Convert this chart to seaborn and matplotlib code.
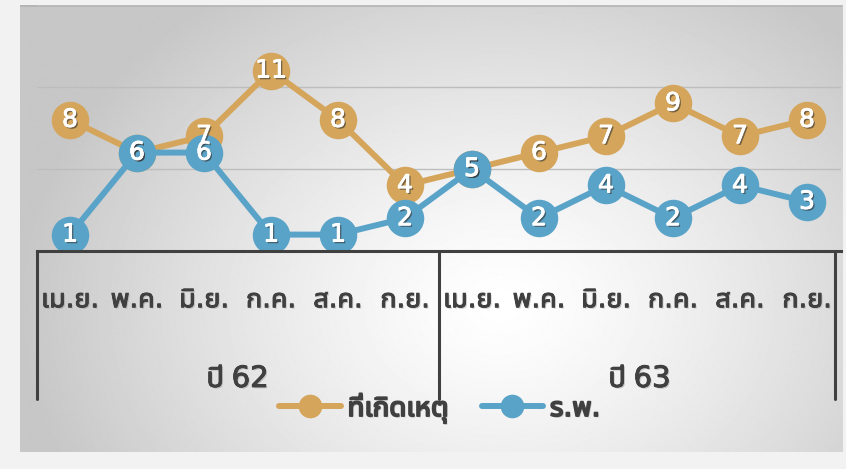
import numpy as np
import pandas as pd
import seaborn as sns
import matplotlib.pyplot as plt
import matplotlib.patheffects as pe
from matplotlib import font_manager, ft2font
from matplotlib.lines import Line2D
import matplotlib.transforms as mtransforms

months = ['เม.ย.', 'พ.ค.', 'มิ.ย.', 'ก.ค.', 'ส.ค.', 'ก.ย.'] * 2
years = ['ปี 62', 'ปี 63']
scene = [8, 6, 7, 11, 8, 4, 5, 6, 7, 9, 7, 8]      # ที่เกิดเหตุ
hospital = [1, 6, 6, 1, 1, 2, 5, 2, 4, 2, 4, 3]    # ร.พ.
names = ['ที่เกิดเหตุ', 'ร.พ.']
colors = ['#D4A55A', '#5AA3C8']

# fonts that have Thai glyphs, prefer the loopless Noto ones
thai_fonts = []
for f in font_manager.fontManager.ttflist:
    try:
        if 0x0E01 in ft2font.FT2Font(f.fname).get_charmap():
            thai_fonts.append(f.name)
    except Exception:
        pass
thai_font = None
for pref in ['Noto Sans Thai UI', 'Noto Sans Thai', 'Noto Sans Thai Looped']:
    if pref in thai_fonts:
        thai_font = pref
        break
if thai_font is None and thai_fonts:
    thai_font = thai_fonts[0]

sns.set_style('white')
plt.rcParams['font.family'] = [thai_font, 'DejaVu Sans'] if thai_font else ['DejaVu Sans']

df = pd.DataFrame({
    'pos': list(range(12)) * 2,
    'value': scene + hospital,
    'series': [names[0]] * 12 + [names[1]] * 12,
})

fig = plt.figure(figsize=(8.46, 4.69), dpi=100)
fig.patch.set_facecolor('#f2f2f2')

# radial gradient panel
bg = fig.add_axes([20 / 846, 17 / 469, 822 / 846, 447 / 469], zorder=0)
yy, xx = np.mgrid[0:447, 0:822]
r = np.sqrt(((xx - 480) / 480.0) ** 2 + ((yy - 300) / 380.0) ** 2)
shade = 1.0 - 0.22 * np.clip(r, 0, 1.0) ** 1.3
bg.imshow(shade, cmap='gray', vmin=0, vmax=1, aspect='auto', interpolation='bilinear')
bg.axhline(0, color='#b4b4b4', lw=2)
bg.set_axis_off()

ax = fig.add_axes([36.5 / 846, 218 / 469, 804 / 846, 246 / 469], zorder=1)
ax.patch.set_alpha(0)

sns.lineplot(data=df, x='pos', y='value', hue='series', palette=colors,
             marker='o', markersize=27, markeredgewidth=0, linewidth=4.3,
             legend=False, ax=ax)

shadow = [pe.withSimplePatchShadow(offset=(1.2, -1.2), shadow_rgbFace='#333333', alpha=0.6),
          pe.withStroke(linewidth=0.6, foreground='white')]
for series in (scene, hospital):
    for i, v in enumerate(series):
        ax.text(i, v, str(v), ha='center', va='center', color='white',
                fontsize=18, zorder=10, path_effects=shadow)

ax.set_xlim(-0.5, 11.5)
ax.set_ylim(0, 15)
ax.set_yticks([5, 10, 15])
ax.yaxis.grid(True, color='#bdbdbd', lw=1)
ax.xaxis.grid(False)
ax.tick_params(left=False, labelleft=False, bottom=False, labelbottom=False)
for s in ['left', 'right', 'top']:
    ax.spines[s].set_visible(False)
ax.spines['bottom'].set_color('#404040')
ax.spines['bottom'].set_linewidth(2.2)
ax.set_xlabel('')
ax.set_ylabel('')

# multi-level category axis
trans = mtransforms.blended_transform_factory(ax.transData, ax.transAxes)
for xv in [-0.5, 5.5, 11.42]:
    ax.add_line(Line2D([xv, xv], [0, -0.6], transform=trans, color='#404040',
                       lw=2.2, clip_on=False))
txt_shadow = [pe.withSimplePatchShadow(offset=(1, -1), shadow_rgbFace='#888888', alpha=0.4),
              pe.withStroke(linewidth=0.7, foreground='#404040')]
for i, m in enumerate(months):
    ax.text(i, -0.2, m, transform=trans, ha='center', va='center', fontsize=19.5,
            color='#404040', path_effects=txt_shadow)
for j, yname in enumerate(years):
    ax.text(2.5 + 6 * j, -0.52, yname, transform=trans, ha='center', va='center',
            fontsize=21, color='#404040', path_effects=txt_shadow)

handles = [Line2D([], [], color=c, lw=4.3, marker='o', markersize=17, markeredgewidth=0)
           for c in colors]
leg = fig.legend(handles, names, loc='center', bbox_to_anchor=(0.52, 0.13), ncol=2,
                 frameon=False, fontsize=20, handlelength=2.2, columnspacing=1.2,
                 handletextpad=0.25)
bold_shadow = [pe.withSimplePatchShadow(offset=(1, -1), shadow_rgbFace='#888888', alpha=0.4),
               pe.withStroke(linewidth=1.3, foreground='#404040')]
for t in leg.get_texts():
    t.set_color('#404040')
    t.set_path_effects(bold_shadow)

fig.savefig('out.png', dpi=100)
